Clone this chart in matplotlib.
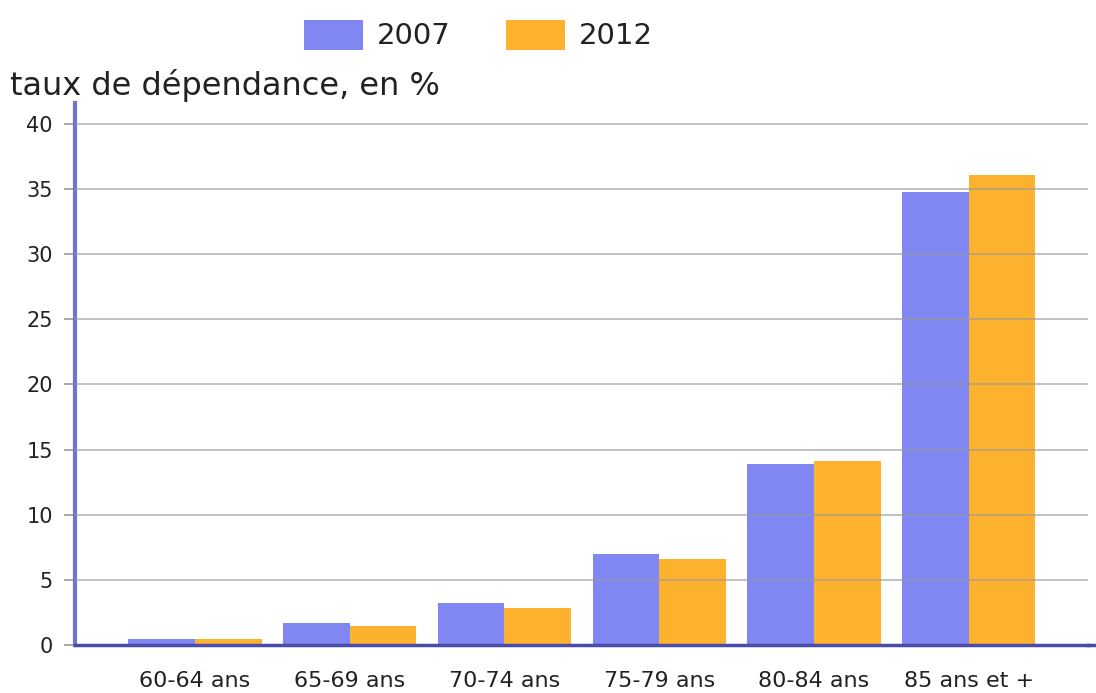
import matplotlib.pyplot as plt
import numpy as np
from matplotlib.patches import Patch
from matplotlib.lines import Line2D

# data
categories = ['60-64 ans', '65-69 ans', '70-74 ans', '75-79 ans', '80-84 ans', '85 ans et +']
vals_2007 = [0.44, 1.67, 3.2, 6.95, 13.86, 34.76]
vals_2012 = [0.44, 1.49, 2.85, 6.62, 14.16, 36.1]
series_names = ['2007', '2012']
yticks = [0, 5, 10, 15, 20, 25, 30, 35, 40]

c07 = '#8086F2'
c12 = '#FDB22F'

fig = plt.figure(figsize=(10.96, 6.93), dpi=100)
ax = fig.add_axes([75 / 1096, 48 / 693, 1013 / 1096, 542 / 693])

x = np.arange(len(categories))
w = 0.43
ax.bar(x - w / 2, vals_2007, w, color=c07, zorder=1)
ax.bar(x + w / 2, vals_2012, w, color=c12, zorder=1)

ax.set_xlim(-0.775, 5.77)
ax.set_ylim(0, 41.6)
ax.set_yticks(yticks)
ax.set_xticks(x)
ax.set_xticklabels(categories, fontsize=16, color='#222222')
ax.tick_params(axis='x', length=0, pad=19)
ax.tick_params(axis='y', length=8, width=1.2, color='#999999', labelsize=15, labelcolor='#222222', pad=8)

# gridlines over the bars
for t in yticks[1:]:
    ax.axhline(t, color='#999999', lw=1.2, alpha=0.7, zorder=3)

for s in ['top', 'right']:
    ax.spines[s].set_visible(False)
ax.spines['left'].set_color('#7373D0')
ax.spines['left'].set_linewidth(3)
ax.spines['bottom'].set_color('#4B4BAA')
ax.spines['bottom'].set_linewidth(2.5)
ax.spines['bottom'].set_zorder(4)
ax.add_line(Line2D([1.0, 1.01], [0, 0], transform=ax.transAxes, color='#4B4BAA',
                   lw=2.5, clip_on=False))

fig.text(10 / 1096, 1 - 85 / 693, 'taux de dépendance, en %', fontsize=23,
         color='#222222', va='center', ha='left')

handles = [Patch(facecolor=c07, label=series_names[0]),
           Patch(facecolor=c12, label=series_names[1])]
fig.legend(handles=handles, loc='center', bbox_to_anchor=(478 / 1096, 1 - 35 / 693),
           ncol=2, frameon=False, fontsize=21, handlelength=2.05, handleheight=1.2,
           handletextpad=0.45, columnspacing=1.9, labelcolor='#222222')

fig.savefig('out.png', dpi=100)
